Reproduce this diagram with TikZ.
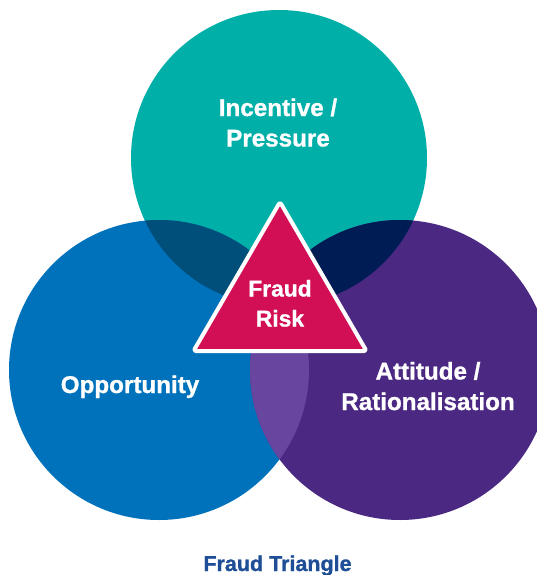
\documentclass[tikz,border=0pt]{standalone}
\usepackage{fontspec}
\setmainfont[BoldFeatures={FakeBold=1}]{Liberation Sans}
\definecolor{cteal}{RGB}{0,175,168}
\definecolor{cblue}{RGB}{0,114,187}
\definecolor{cpurple}{RGB}{75,40,130}
\definecolor{ctl}{RGB}{0,79,122}
\definecolor{ctr}{RGB}{0,28,84}
\definecolor{clr}{RGB}{104,70,160}
\definecolor{ccrimson}{RGB}{210,15,85}
\definecolor{ctitle}{RGB}{30,78,150}
\begin{document}
\begin{tikzpicture}[x=1pt,y=-1pt,
  lbl/.style={text=white,font=\bfseries\fontsize{24.2}{30.5}\selectfont,align=center,anchor=base,inner sep=0pt},
  tri/.style={fill=ccrimson,draw=white,line width=4pt,rounded corners=2.5pt,line join=round}]
\useasboundingbox (0,0) rectangle (537,575);
\def\topc{(279,158) circle (148)}
\def\leftc{(159,370) circle (150)}
\def\rightc{(400,370) circle (150)}
\fill[cteal] \topc;
\fill[cblue] \leftc;
\fill[cpurple] \rightc;
\begin{scope}
  \clip \topc;
  \fill[ctl] \leftc;
  \fill[ctr] \rightc;
\end{scope}
\begin{scope}
  \clip \leftc;
  \fill[clr] \rightc;
\end{scope}
\path[tri] (280,202) -- (366.5,351) -- (193.5,351) -- cycle;
\node[lbl] (inc) at (278,146.5) {Incentive /\\Pressure};
\node[lbl] (opp) at (130,393) {Opportunity};
\node[lbl] (att) at (428,410) {Attitude /\\Rationalisation};
\node[lbl,font=\bfseries\fontsize{22.8}{30}\selectfont] (risk) at (280,326.5) {Fraud\\Risk};
\node[anchor=base,inner sep=0pt,text=ctitle,font=\bfseries\fontsize{21.5}{26}\selectfont] (title) at (277.5,571) {Fraud Triangle};
\end{tikzpicture}
\end{document}
